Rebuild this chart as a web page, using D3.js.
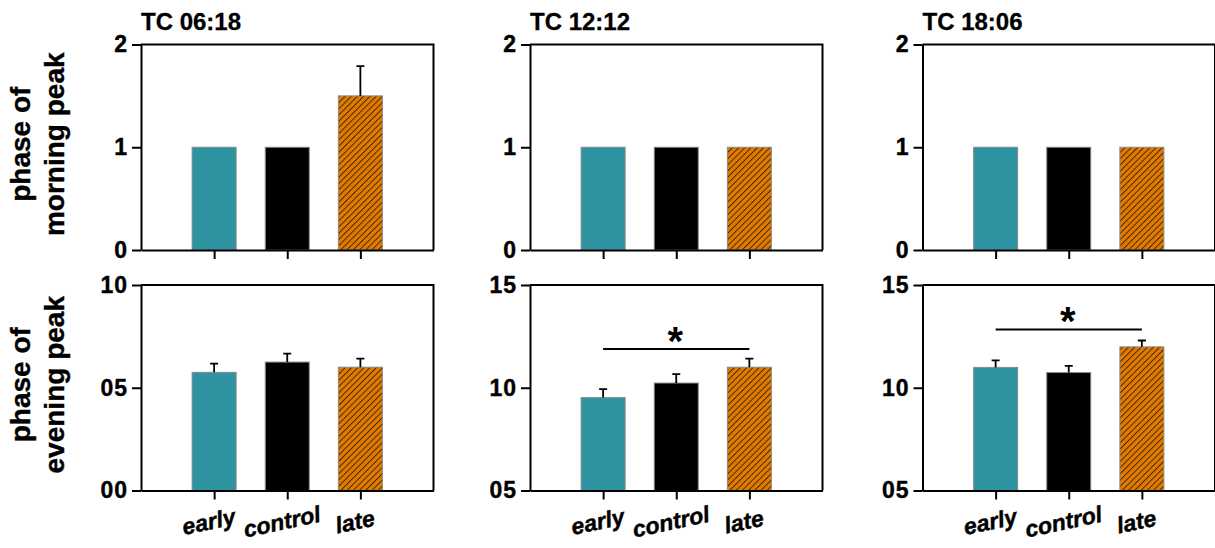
<!DOCTYPE html>
<html>
<head>
<meta charset="utf-8">
<script src="https://cdn.jsdelivr.net/npm/d3@7"></script>
<style>
  body { margin: 0; background: #fff; }
  svg text { font-family: "Liberation Sans", Arial, sans-serif; font-weight: bold; fill: #000; }
</style>
</head>
<body>
<div id="chart"></div>
<script>
// data
const groups = ["early", "control", "late"];
const panelTitles = ["TC 06:18", "TC 12:12", "TC 18:06"];

const morningMeans = [[1, 1, 1.5], [1, 1, 1], [1, 1, 1]];
const morningErr = [[0, 0, 0.29], [0, 0, 0], [0, 0, 0]];
const morningDomains = [[0, 2], [0, 2], [0, 2]];
const morningTicks = [[0, 1, 2], [0, 1, 2], [0, 1, 2]];
const morningTickLabels = [["0", "1", "2"], ["0", "1", "2"], ["0", "1", "2"]];

const eveningMeans = [[5.75, 6.25, 6.0], [9.52, 10.23, 11.0], [10.99, 10.74, 11.99]];
const eveningErr = [[0.42, 0.41, 0.42], [0.41, 0.43, 0.42], [0.34, 0.32, 0.31]];
const eveningDomains = [[0, 10], [5, 15], [5, 15]];
const eveningTicks = [[0, 5, 10], [5, 10, 15], [5, 10, 15]];
const eveningTickLabels = [["00", "05", "10"], ["05", "10", "15"], ["05", "10", "15"]];

// significance bars (from group, to group, height in data units)
const eveningSig = [null, ["early", "late", 11.88], ["early", "late", 12.84]];

const rowLabels = [["phase of", "morning peak"], ["phase of", "evening peak"]];

const colors = { early: "#2e93a1", control: "#000000", late: "url(#hatch)" };

// layout
const width = 1215, height = 548;
const colLeft = [141, 530, 922.5];
const panelW = 292.5;
const rowTop = [44.5, 285];
const panelH = 205.5;
const barW = 44;

const svg = d3.select("#chart").append("svg")
    .attr("width", width)
    .attr("height", height);

// hatch fill for the "late" bars
const defs = svg.append("defs");
const pat = defs.append("pattern")
    .attr("id", "hatch")
    .attr("patternUnits", "userSpaceOnUse")
    .attr("width", 4.4)
    .attr("height", 4.4)
    .attr("patternTransform", "rotate(45)");
pat.append("rect").attr("width", 4.4).attr("height", 4.4).attr("fill", "#e07a00");
pat.append("line")
    .attr("x1", 0.5).attr("y1", 0).attr("x2", 0.5).attr("y2", 4.4)
    .attr("stroke", "#3a2200").attr("stroke-width", 0.9);

const drawPanel = (row, col, means, errs, domain, ticks, tickLabels, sig) => {
    const left = colLeft[col], top = rowTop[row];
    const g = svg.append("g").attr("transform", `translate(${left},${top})`);

    const x = d3.scalePoint().domain(groups).range([0, panelW]).padding(1);
    const y = d3.scaleLinear().domain(domain).range([panelH, 0]);

    // frame: top and right
    g.append("path")
        .attr("d", `M0,0H${panelW}V${panelH}`)
        .attr("fill", "none")
        .attr("stroke", "#000")
        .attr("stroke-width", 2);

    // bars
    g.selectAll("rect.bar")
        .data(groups)
        .join("rect")
            .attr("class", "bar")
            .attr("x", d => x(d) - barW / 2)
            .attr("y", (d, i) => y(means[i]))
            .attr("width", barW)
            .attr("height", (d, i) => y(domain[0]) - y(means[i]))
            .attr("fill", d => colors[d])
            .attr("stroke", "#8a8a8a")
            .attr("stroke-width", 1);

    // error bars (upper only)
    const eb = groups.map((d, i) => ({ g: d, m: means[i], e: errs[i] })).filter(d => d.e > 0);
    g.selectAll("path.err")
        .data(eb)
        .join("path")
            .attr("class", "err")
            .attr("d", d => `M${x(d.g)},${y(d.m)}V${y(d.m + d.e)}M${x(d.g) - 4},${y(d.m + d.e)}H${x(d.g) + 4}`)
            .attr("fill", "none")
            .attr("stroke", "#000")
            .attr("stroke-width", 1.8);

    // y axis
    const yAxis = g.append("g")
        .call(d3.axisLeft(y)
            .tickValues(ticks)
            .tickFormat((d, i) => tickLabels[i])
            .tickSize(9)
            .tickSizeOuter(0)
            .tickPadding(4));
    yAxis.selectAll("path, line").attr("stroke", "#000").attr("stroke-width", 2);
    yAxis.selectAll("text")
        .style("font-family", "'Liberation Sans', Arial, sans-serif")
        .style("font-weight", "bold")
        .style("font-size", "23px")
        .style("letter-spacing", "1px")
        .attr("stroke", "#000")
        .attr("stroke-width", 0.4);

    // x axis (ticks only, labels added below)
    const xAxis = g.append("g")
        .attr("transform", `translate(0,${panelH})`)
        .call(d3.axisBottom(x).tickSize(9).tickSizeOuter(0).tickFormat(""));
    xAxis.selectAll("path, line").attr("stroke", "#000").attr("stroke-width", 2);

    if (row === 1) {
        g.selectAll("text.xlab")
            .data(groups)
            .join("text")
                .attr("class", "xlab")
                .attr("transform", d => `translate(${x(d) - 5},${panelH + 33}) rotate(-12)`)
                .attr("text-anchor", "middle")
                .attr("dominant-baseline", "middle")
                .attr("stroke", "#000")
                .attr("stroke-width", 0.4)
                .style("font-size", "23px")
                .style("font-style", "italic")
                .text(d => d);
    } else {
        g.append("text")
            .attr("x", 0)
            .attr("y", -14.5)
            .attr("stroke", "#000")
            .attr("stroke-width", 0.3)
            .style("font-size", "24px")
            .text(panelTitles[col]);
    }

    if (sig) {
        const [a, b, v] = sig;
        g.append("line")
            .attr("x1", x(a)).attr("x2", x(b))
            .attr("y1", y(v)).attr("y2", y(v))
            .attr("stroke", "#000")
            .attr("stroke-width", 2);
        g.append("text")
            .attr("x", (x(a) + x(b)) / 2 - 1)
            .attr("y", y(v) + 5.7)
            .attr("text-anchor", "middle")
            .style("font-size", "40px")
            .text("*");
    }
};

for (let c = 0; c < 3; c++) {
    drawPanel(0, c, morningMeans[c], morningErr[c], morningDomains[c], morningTicks[c], morningTickLabels[c], null);
    drawPanel(1, c, eveningMeans[c], eveningErr[c], eveningDomains[c], eveningTicks[c], eveningTickLabels[c], eveningSig[c]);
}

// row labels
rowLabels.forEach((lines, r) => {
    const cy = rowTop[r] + panelH / 2 - 3;
    const t = svg.append("text")
        .attr("transform", `translate(0,${cy}) rotate(-90)`)
        .attr("text-anchor", "middle")
        .attr("stroke", "#000")
        .attr("stroke-width", 0.4)
        .style("font-size", "28px");
    t.append("tspan").attr("x", 0).attr("y", 30).text(lines[0]);
    t.append("tspan").attr("x", 0).attr("y", 64).text(lines[1]);
});
</script>
</body>
</html>
